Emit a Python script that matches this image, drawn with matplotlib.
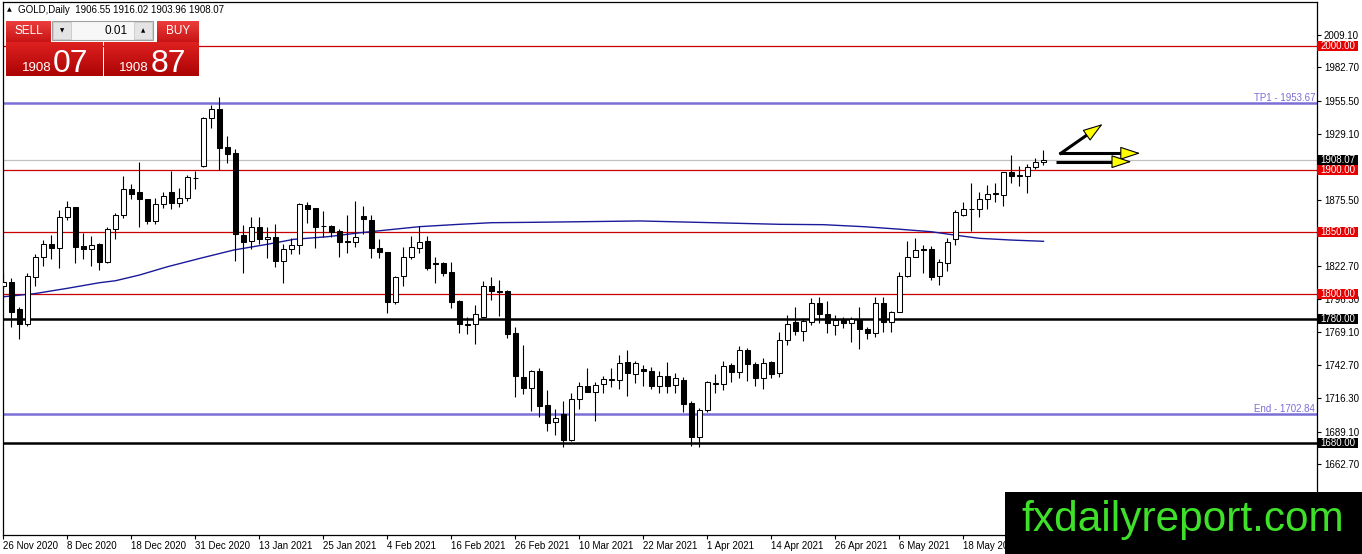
import numpy as np
import pandas as pd
import matplotlib
matplotlib.use("Agg")
import matplotlib.pyplot as plt
import matplotlib.transforms as mtransforms
from matplotlib.patches import Rectangle

plt.rcParams['font.family'] = ['Liberation Sans', 'DejaVu Sans']

# daily OHLC (GOLD, 26 Nov 2020 - 1 Jun 2021)
opens = [1806.7, 1809.4, 1787.9, 1776.1, 1814.0, 1829.6, 1840.3, 1837.4, 1861.8, 1869.9,
         1838.7, 1836.0, 1840.3, 1826.1, 1852.2, 1863.7, 1884.4, 1882.0, 1876.3, 1859.1,
         1872.3, 1882.0, 1873.1, 1877.1, 1893.3, 1903.2, 1941.7, 1948.9, 1918.3, 1913.5,
         1847.6, 1842.7, 1853.8, 1844.0, 1846.0, 1826.9, 1836.5, 1839.2, 1871.5, 1869.0,
         1855.0, 1854.8, 1850.8, 1842.5, 1841.7, 1862.9, 1859.7, 1836.8, 1833.6, 1793.3,
         1814.8, 1829.6, 1837.4, 1842.7, 1824.5, 1824.7, 1817.5, 1794.3, 1775.5, 1775.5,
         1781.7, 1806.7, 1802.4, 1802.7, 1768.2, 1732.8, 1723.9, 1737.9, 1710.5, 1696.6,
         1703.2, 1682.4, 1715.0, 1725.8, 1721.2, 1727.1, 1730.7, 1730.7, 1744.9, 1735.5,
         1739.2, 1738.2, 1726.1, 1733.9, 1726.6, 1730.7, 1711.8, 1684.6, 1706.5, 1727.7,
         1727.1, 1742.7, 1736.8, 1754.8, 1743.5, 1732.0, 1744.9, 1736.0, 1762.9, 1777.2,
         1770.5, 1777.7, 1792.5, 1783.9, 1775.0, 1779.8, 1776.3, 1779.8, 1771.5, 1768.3,
         1792.5, 1777.7, 1785.8, 1814.5, 1830.1, 1836.3, 1836.3, 1814.5, 1825.3, 1844.1,
         1863.7, 1868.3, 1868.3, 1876.3, 1881.0, 1879.8, 1898.0, 1895.5, 1895.3, 1902.7,
         1906.55]
highs = [1816.7, 1813.2, 1789.5, 1817.2, 1832.3, 1843.8, 1847.6, 1867.7, 1875.0, 1870.5,
         1849.5, 1846.8, 1841.4, 1854.3, 1865.6, 1895.2, 1888.4, 1906.2, 1876.8, 1877.7,
         1882.5, 1899.2, 1885.2, 1896.0, 1899.2, 1943.1, 1952.4, 1958.6, 1927.1, 1916.7,
         1855.6, 1862.4, 1861.8, 1854.3, 1856.7, 1840.0, 1844.9, 1873.1, 1874.5, 1869.5,
         1866.9, 1855.3, 1852.2, 1863.7, 1875.0, 1871.0, 1863.7, 1844.3, 1834.0, 1814.5,
         1838.2, 1847.0, 1854.8, 1846.7, 1830.0, 1825.6, 1826.1, 1794.8, 1781.7, 1791.1,
         1810.8, 1813.5, 1811.6, 1803.5, 1773.0, 1758.7, 1738.7, 1740.6, 1722.6, 1707.0,
         1713.7, 1719.9, 1729.3, 1740.0, 1729.3, 1733.9, 1740.6, 1750.8, 1754.8, 1746.0,
         1742.7, 1741.4, 1738.2, 1744.9, 1736.0, 1732.8, 1714.0, 1708.4, 1729.9, 1735.2,
         1746.0, 1744.1, 1758.0, 1756.1, 1745.4, 1748.1, 1746.0, 1769.6, 1783.0, 1789.7,
         1780.4, 1796.5, 1797.8, 1794.6, 1783.1, 1781.7, 1781.7, 1789.7, 1773.1, 1797.8,
         1797.8, 1786.0, 1817.5, 1843.0, 1844.9, 1839.5, 1838.7, 1828.0, 1844.9, 1867.7,
         1874.5, 1889.8, 1882.5, 1887.9, 1889.2, 1898.4, 1912.0, 1903.2, 1904.8, 1909.4,
         1916.02]
lows = [1805.0, 1773.7, 1763.4, 1774.5, 1806.5, 1822.6, 1828.2, 1821.2, 1859.7, 1824.7,
        1828.0, 1822.8, 1819.4, 1824.7, 1844.0, 1861.0, 1876.3, 1854.3, 1856.2, 1856.2,
        1869.0, 1868.3, 1870.4, 1875.0, 1884.4, 1902.8, 1933.6, 1900.0, 1906.0, 1826.9,
        1816.7, 1836.3, 1840.3, 1828.8, 1822.0, 1809.1, 1832.0, 1832.0, 1857.5, 1836.8,
        1846.2, 1846.2, 1830.0, 1832.8, 1838.2, 1848.1, 1828.8, 1828.8, 1784.4, 1791.7,
        1806.7, 1828.0, 1833.3, 1819.0, 1809.1, 1814.5, 1788.4, 1768.8, 1767.4, 1760.0,
        1780.4, 1795.2, 1782.6, 1764.8, 1716.7, 1719.4, 1705.9, 1701.1, 1689.6, 1686.4,
        1676.5, 1681.8, 1707.3, 1721.0, 1697.9, 1719.9, 1725.3, 1723.1, 1718.0, 1728.0,
        1726.1, 1723.4, 1720.4, 1720.4, 1720.4, 1705.1, 1677.8, 1677.0, 1705.1, 1720.4,
        1722.6, 1729.3, 1732.5, 1730.1, 1725.8, 1723.1, 1732.0, 1733.3, 1758.9, 1767.0,
        1762.5, 1775.0, 1776.3, 1768.8, 1767.0, 1772.3, 1761.6, 1755.4, 1763.4, 1765.6,
        1769.6, 1769.6, 1785.5, 1813.4, 1829.6, 1817.2, 1811.3, 1807.3, 1818.8, 1839.5,
        1863.0, 1851.1, 1862.4, 1868.6, 1874.5, 1871.3, 1889.2, 1887.4, 1881.2, 1900.8,
        1903.96]
closes = [1809.9, 1785.7, 1776.1, 1814.5, 1829.6, 1840.3, 1837.4, 1861.8, 1869.9, 1838.2,
          1836.0, 1839.2, 1826.1, 1852.2, 1863.7, 1884.4, 1880.4, 1876.3, 1859.1, 1872.3,
          1879.0, 1873.1, 1877.1, 1894.1, 1893.8, 1941.7, 1948.9, 1917.5, 1913.2, 1848.1,
          1842.2, 1853.8, 1844.0, 1845.7, 1826.9, 1836.0, 1839.5, 1872.3, 1868.8, 1854.3,
          1854.6, 1850.3, 1842.2, 1842.1, 1846.2, 1860.2, 1836.8, 1833.6, 1793.3, 1813.4,
          1829.6, 1837.6, 1841.7, 1820.7, 1824.2, 1817.2, 1793.8, 1775.5, 1775.2, 1783.6,
          1806.7, 1802.4, 1802.0, 1767.7, 1734.1, 1723.9, 1737.9, 1709.9, 1696.3, 1699.8,
          1682.4, 1715.0, 1725.8, 1721.2, 1726.6, 1731.2, 1730.9, 1744.1, 1736.0, 1744.1,
          1738.2, 1725.8, 1734.1, 1726.1, 1732.0, 1711.3, 1684.6, 1706.5, 1728.8, 1728.0,
          1742.2, 1736.8, 1754.8, 1743.3, 1732.0, 1744.1, 1735.2, 1762.9, 1775.8, 1770.5,
          1778.2, 1792.5, 1783.6, 1776.3, 1779.1, 1776.3, 1779.6, 1771.5, 1768.3, 1792.5,
          1777.7, 1785.8, 1814.5, 1830.1, 1835.5, 1835.2, 1814.0, 1825.5, 1842.2, 1865.8,
          1868.3, 1868.6, 1876.3, 1880.6, 1881.1, 1898.0, 1895.3, 1896.0, 1902.7, 1906.2,
          1908.07]

# moving average (blue line) read at a few bars
ma_bar = [0, 3.8, 8, 12, 14, 17, 20.5, 24.6, 28.8, 33, 36.3, 40.5, 44.6, 48.8, 52, 57, 61,
          66, 79.6, 97, 102.5, 107.5, 111.7, 116, 118.8, 122, 126, 130]
ma_val = [1797.8, 1800.2, 1804.6, 1809.1, 1810.7, 1815.3, 1822.0, 1828.8, 1835.5, 1840.1,
          1844.1, 1846.2, 1849.4, 1852.2, 1854.3, 1856.2, 1857.5, 1857.8, 1858.9, 1856.2,
          1855.9, 1854.3, 1852.4, 1850.2, 1847.6, 1844.9, 1843.5, 1842.5]

red_levels = [2000.0, 1900.0, 1850.0, 1800.0]
black_levels = [1780.0, 1680.0]
tp1 = 1953.67
end_level = 1702.84
last_price = 1908.07
ytick_vals = [2009.10, 1982.70, 1955.50, 1929.10, 1875.50, 1822.70, 1796.30,
              1769.10, 1742.70, 1716.30, 1689.10, 1662.70]
holidays = ['2020-12-25', '2021-01-01', '2021-04-02']

dates = pd.bdate_range('2020-11-26', '2021-06-01')
dates = dates[~dates.isin(pd.to_datetime(holidays))]

W, H = 1362, 554
fig = plt.figure(figsize=(W / 100, H / 100), dpi=100)
ax = fig.add_axes([3 / W, (H - 535) / H, (1317 - 3) / W, (535 - 2) / H])

o = np.array(opens); h = np.array(highs); l = np.array(lows); c = np.array(closes)
x = np.arange(len(o))

# levels
for v in red_levels:
    ax.axhline(v, color='#c80000', lw=0.9, zorder=1)
for v in black_levels:
    ax.axhline(v, color='black', lw=1.8, zorder=1)
ax.axhline(tp1, color='#7b6fd6', lw=1.8, zorder=1)
ax.axhline(end_level, color='#7b6fd6', lw=1.8, zorder=1)
ax.axhline(last_price, color='#c0c0c0', lw=0.9, zorder=1)

ax.plot(ma_bar, ma_val, color='#1a1a9a', lw=1.0, zorder=2)

# candles
ax.vlines(x, l, h, color='black', lw=0.8, zorder=3)
body_bot = np.minimum(o, c)
body_h = np.maximum(np.abs(c - o), 0.4)
colors = ['white' if cc >= oo else 'black' for oo, cc in zip(o, c)]
ax.bar(x, body_h, bottom=body_bot, width=0.6, color=colors, edgecolor='black',
       linewidth=0.75, zorder=4)

ax.set_xlim(-0.0625, 164.19)
ax.set_ylim(1605.65, 2035.48)

# axes ticks
ax.yaxis.tick_right()
ax.set_yticks(ytick_vals)
ax.set_yticklabels(['%.2f' % v for v in ytick_vals])
ax.tick_params(axis='y', direction='out', length=3, width=0.8, pad=2, labelsize=7)
xt = x[::8]
ax.set_xticks(xt)
ax.set_xticklabels([f"{d.day} {d:%b %Y}" for d in dates[xt]], ha='left')
ax.tick_params(axis='x', direction='out', length=3, width=0.8, pad=1, labelsize=7)
for s in ax.spines.values():
    s.set_color('black')
    s.set_linewidth(0.9)

# price boxes on the right scale
trans = mtransforms.blended_transform_factory(fig.transFigure, ax.transData)
box_h = 10 / 1.24


def price_box(v, fc):
    ax.add_patch(Rectangle((1317 / W, v - box_h / 2), 41 / W, box_h, facecolor=fc,
                           edgecolor='none', transform=trans, clip_on=False, zorder=10))
    ax.text(1338 / W, v, '%.2f' % v, color='white', fontsize=7, ha='center',
            va='center', transform=trans, clip_on=False, zorder=11)


price_box(last_price, 'black')
for v in red_levels:
    price_box(v, '#e60000')
for v in black_levels:
    price_box(v, 'black')

tr2 = mtransforms.blended_transform_factory(ax.transAxes, ax.transData)
ax.text(0.9985, tp1 + 1.6, 'TP1 - %.2f' % tp1, color='#7b6fd6', fontsize=7,
        ha='right', va='baseline', transform=tr2)
ax.text(0.9985, end_level + 1.6, 'End - %.2f' % end_level, color='#7b6fd6', fontsize=7,
        ha='right', va='baseline', transform=tr2)

# arrows
arrows = [((132.0, 1912.7), (137.4, 1937.1)),
          ((132.0, 1913.5), (142.1, 1913.5)),
          ((131.6, 1906.7), (141.0, 1906.7))]
fig.canvas.draw()
for tail, tip in arrows:
    p0 = ax.transData.transform(tail)
    p1 = ax.transData.transform(tip)
    d = (p1 - p0) / np.hypot(*(p1 - p0))
    pe = ax.transData.inverted().transform(p1 - d * 9)
    ax.plot([tail[0], pe[0]], [tail[1], pe[1]], color='black', lw=2.2,
            solid_capstyle='butt', zorder=6)
    ax.annotate('', xy=tip, xytext=tuple(pe),
                arrowprops=dict(arrowstyle='-|>,head_length=0.85,head_width=0.28',
                                fc='#ffff00', ec='black', lw=0.8, mutation_scale=15,
                                shrinkA=0, shrinkB=0), zorder=7)


# top-left trade panel
def fx(px):
    return px / W


def fy(py):
    return 1 - py / H


def grad_box(x0, y0, x1, y1, top, bot):
    bax = fig.add_axes([fx(x0), fy(y1), (x1 - x0) / W, (y1 - y0) / H], zorder=2)
    g = np.linspace(0, 1, 40)[:, None, None]
    img = np.array(top)[None, None, :] * (1 - g) + np.array(bot)[None, None, :] * g
    bax.imshow(img / 255.0, aspect='auto', interpolation='bilinear')
    bax.set_axis_off()


grad_box(6, 21, 51, 42, (236, 62, 62), (200, 20, 20))
grad_box(157, 21, 199, 42, (236, 62, 62), (200, 20, 20))
grad_box(6, 42, 102, 76, (222, 32, 32), (172, 4, 4))
grad_box(104, 42, 199, 76, (222, 32, 32), (172, 4, 4))

fig.add_artist(Rectangle((fx(52), fy(40)), 101 / W, 19 / H, transform=fig.transFigure,
                         facecolor='#f7f7f7', edgecolor='#a0a0a0', lw=0.8, zorder=2))
for bx in (53, 134):
    fig.add_artist(Rectangle((fx(bx), fy(39)), 18 / W, 17 / H, transform=fig.transFigure,
                             facecolor='#e4e4e4', edgecolor='#c8c8c8', lw=0.6, zorder=2))
fig.text(fx(62), fy(30.5), '▼', fontsize=4, ha='center', va='center',
         family=['DejaVu Sans'])
fig.text(fx(143), fy(30.5), '▲', fontsize=4, ha='center', va='center',
         family=['DejaVu Sans'])
fig.text(fx(128), fy(31), '0.01', fontsize=8.5, ha='right', va='center')
fig.text(fx(28.5), fy(31), 'SELL', fontsize=8.5, ha='center', va='center', color='white')
fig.text(fx(178), fy(31), 'BUY', fontsize=8.5, ha='center', va='center', color='white')
fig.text(fx(22), fy(71), '1908', fontsize=9.5, color='white', va='baseline')
fig.text(fx(53), fy(71.5), '07', fontsize=23, color='white', va='baseline')
fig.text(fx(119), fy(71), '1908', fontsize=9.5, color='white', va='baseline')
fig.text(fx(151), fy(71.5), '87', fontsize=23, color='white', va='baseline')

# header
fig.text(fx(6.5), fy(10), '▲', fontsize=4.5, va='center', family=['DejaVu Sans'])
fig.text(fx(18), fy(10), 'GOLD,Daily  1906.55 1916.02 1903.96 1908.07', fontsize=7,
         va='center')

# watermark
fig.add_artist(Rectangle((fx(1005), 0), (W - 1005) / W, (H - 492) / H,
                         transform=fig.transFigure, facecolor='black', edgecolor='none',
                         zorder=5))
fig.text(fx(1183), fy(520), 'fxdailyreport.com', fontsize=30.5, color='#3ee02a',
         ha='center', va='center', zorder=6)

fig.savefig('out.png', dpi=100)
